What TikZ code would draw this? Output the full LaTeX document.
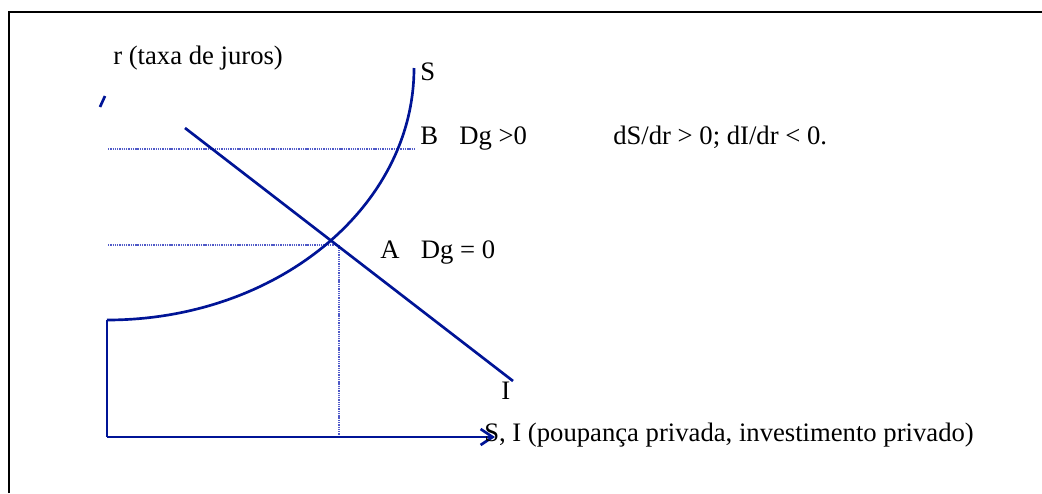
\documentclass[tikz,border=0pt]{standalone}
\usepackage{fontspec}
\setmainfont{Liberation Serif}
\usetikzlibrary{arrows.meta}
\definecolor{navy}{RGB}{0,20,150}
\definecolor{dotblue}{RGB}{80,90,200}
\begin{document}
\begin{tikzpicture}[x=0.75pt,y=-0.75pt,
  curve/.style={draw=navy,line width=2pt},
  guide/.style={draw=dotblue,line width=0.8pt,dash pattern=on 1pt off 0.7pt},
  lbl/.style={font=\fontsize{20}{24}\selectfont,anchor=base west,inner sep=0pt}]
\useasboundingbox (0,0) rectangle (1042,493);
% frame
\coordinate (fbl) at (9,493);
\coordinate (ftl) at (9,12);
\coordinate (ftr) at (1042,12);
\draw[line width=1.4pt] (fbl) -- (ftl) -- (ftr);
% key points
\coordinate (O) at (107,437);
\coordinate (S0) at (107,320);
\coordinate (Xend) at (495,437);
\coordinate (Itop) at (185,128);
\coordinate (Ibot) at (513,381);
\coordinate (tick1) at (100,107);
\coordinate (tick2) at (105,96);
\coordinate (gB1) at (108,149);
\coordinate (gB2) at (415,149);
\coordinate (gA1) at (108,245);
\coordinate (gA2) at (339,245);
\coordinate (gV) at (339,437);
% guides
\draw[guide] (gB1) -- (gB2);
\draw[guide] (gA1) -- (gA2) -- (gV);
% axes
\draw[curve] (S0) -- (O);
\draw[curve,-{Straight Barb[length=9pt,width=12pt]}] (O) -- (Xend);
\draw[curve] (tick1) -- (tick2);
% curves
\draw[curve] (S0) arc[start angle=90,end angle=0,x radius=307,y radius=252];
\draw[curve] (Itop) -- (Ibot);
% labels
\node[lbl] (ylab) at (113,64) {r (taxa de juros)};
\node[lbl] (Slab) at (420,80) {S};
\node[lbl] (Blab) at (420,144) {B\hspace{0.8em}Dg >0};
\node[lbl] (cond) at (613,144) {dS/dr > 0; dI/dr < 0.};
\node[lbl] (Alab) at (380,258) {A\hspace{0.8em}Dg = 0};
\node[lbl] (Ilab) at (501,399) {I};
\node[lbl] (xlab) at (484,441) {S, I (poupança privada, investimento privado)};
\end{tikzpicture}
\end{document}
